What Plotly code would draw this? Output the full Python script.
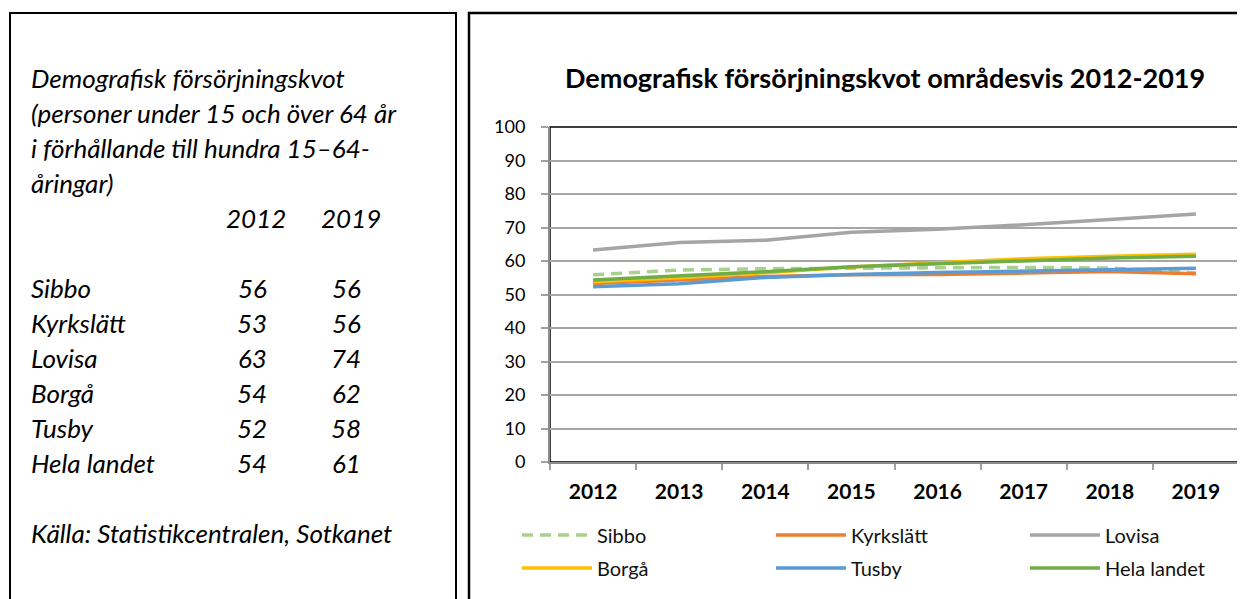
import plotly.graph_objects as go

# page window is 1245x599; the HTML body adds an 8px margin
OFF = 8
FW, FH = 1245 - OFF, 599 - OFF

# ---------------- data ----------------
years = ["2012", "2013", "2014", "2015", "2016", "2017", "2018", "2019"]
series_names = ["Sibbo", "Kyrkslätt", "Lovisa", "Borgå", "Tusby", "Hela landet"]
sibbo = [55.9, 57.3, 57.7, 57.9, 58.0, 58.1, 57.9, 56.4]
kyrkslatt = [53.3, 54.4, 55.4, 55.9, 56.0, 56.4, 56.9, 56.2]
lovisa = [63.3, 65.5, 66.2, 68.6, 69.5, 70.8, 72.4, 74.0]
borga = [53.8, 55.0, 56.5, 58.2, 59.5, 60.7, 61.4, 62.0]
tusby = [52.3, 53.2, 55.1, 56.0, 56.6, 57.0, 57.3, 57.8]
hela_landet = [54.3, 55.5, 56.8, 58.3, 59.2, 60.2, 60.9, 61.4]

table_rows = ["Sibbo", "Kyrkslätt", "Lovisa", "Borgå", "Tusby", "Hela landet"]
table_2012 = [56, 53, 63, 54, 52, 54]
table_2019 = [56, 56, 74, 62, 58, 61]

chart_title = "Demografisk försörjningskvot områdesvis 2012-2019"
panel_heading = [
    "Demografisk försörjningskvot",
    "(personer under 15 och över 64 år",
    "i förhållande till hundra 15–64-",
    "åringar)",
]
source_text = "Källa: Statistikcentralen, Sotkanet"

# ---------------- styling ----------------
colors = ["#A9D18E", "#ED7D31", "#A5A5A5", "#FFC000", "#5B9BD5", "#70AD47"]
dashes = ["11px,7px", "solid", "solid", "solid", "solid", "solid"]
legends = ["legend", "legend", "legend", "legend2", "legend2", "legend2"]
values = [sibbo, kyrkslatt, lovisa, borga, tusby, hela_landet]
FONT = "Lato"


def px(x):
    return (x - OFF) / FW


def py(y):
    return 1 - (y - OFF) / FH


fig = go.Figure()
for name, vals, col, dsh, lg in zip(series_names, values, colors, dashes, legends):
    fig.add_trace(go.Scatter(
        x=years, y=vals, mode="lines", name=name,
        line=dict(color=col, width=3.5, dash=dsh),
        legend=lg, hoverinfo="skip",
    ))

# boxes
fig.add_shape(type="rect", xref="paper", yref="paper",
              x0=px(10), x1=px(456), y0=py(640), y1=py(13),
              line=dict(color="black", width=2), fillcolor="rgba(0,0,0,0)")
fig.add_shape(type="rect", xref="paper", yref="paper",
              x0=px(469), x1=px(1300), y0=py(640), y1=py(13),
              line=dict(color="black", width=2.5), fillcolor="rgba(0,0,0,0)")
# plot area border
fig.add_shape(type="rect", xref="x domain", yref="y domain",
              x0=0, x1=1, y0=0, y1=1, layer="below",
              line=dict(color="black", width=1.5))

# left panel text
ann = []
it = dict(family=FONT, size=26, color="black", style="italic")
for i, line in enumerate(panel_heading):
    ann.append(dict(x=px(29), y=py(78 + 35 * i), text=line))
ann.append(dict(x=px(256), y=py(218), text=years[0], xanchor="center"))
ann.append(dict(x=px(351), y=py(218), text=years[-1], xanchor="center"))
for i, (r, a, b) in enumerate(zip(table_rows, table_2012, table_2019)):
    yy = 288 + 35 * i
    ann.append(dict(x=px(29), y=py(yy), text=r))
    ann.append(dict(x=px(252), y=py(yy), text=str(a), xanchor="center"))
    ann.append(dict(x=px(346), y=py(yy), text=str(b), xanchor="center"))
ann.append(dict(x=px(29), y=py(533), text=source_text))
for a in ann:
    a.setdefault("xanchor", "left")
    a.update(xref="paper", yref="paper", yanchor="middle", showarrow=False, font=it)
    fig.add_annotation(**a)

fig.add_annotation(x=px(885), y=py(78), xref="paper", yref="paper", text=chart_title,
                   showarrow=False, xanchor="center", yanchor="middle",
                   font=dict(family=FONT, size=27, color="black", weight="bold"))

leg_common = dict(orientation="h", xanchor="left", yanchor="middle",
                  entrywidth=169, entrywidthmode="pixels", itemwidth=70,
                  font=dict(family=FONT, size=20, color="#111111"),
                  bgcolor="rgba(0,0,0,0)", borderwidth=0)

fig.update_layout(
    width=FW, height=FH, margin=dict(l=0, r=0, t=0, b=0, autoexpand=False),
    paper_bgcolor="white", plot_bgcolor="white", showlegend=True,
    xaxis=dict(domain=[px(550), px(1239)], type="category", range=[-0.5, 7.5],
               showgrid=False,
               showline=True, linecolor="#8C8C8C", linewidth=2,
               ticks="outside", ticklen=6, tickcolor="#A0A0A0", tickwidth=1.5,
               tickson="boundaries", ticklabelstandoff=10,
               tickfont=dict(family=FONT, size=21, color="black", weight="bold"),
               fixedrange=True),
    yaxis=dict(domain=[py(462), py(127)], range=[0, 100], dtick=10,
               showgrid=True, gridcolor="#A6A6A6", gridwidth=1.5, zeroline=False,
               showline=True, linecolor="#8C8C8C", linewidth=2,
               ticks="outside", ticklen=7, tickcolor="#A0A0A0", tickwidth=1.5,
               ticklabelstandoff=12,
               tickfont=dict(family=FONT, size=18, color="black"),
               fixedrange=True),
    legend=dict(x=px(517), y=py(535), **leg_common),
    legend2=dict(x=px(517), y=py(568), **leg_common),
)

fig.write_html("out.html")
